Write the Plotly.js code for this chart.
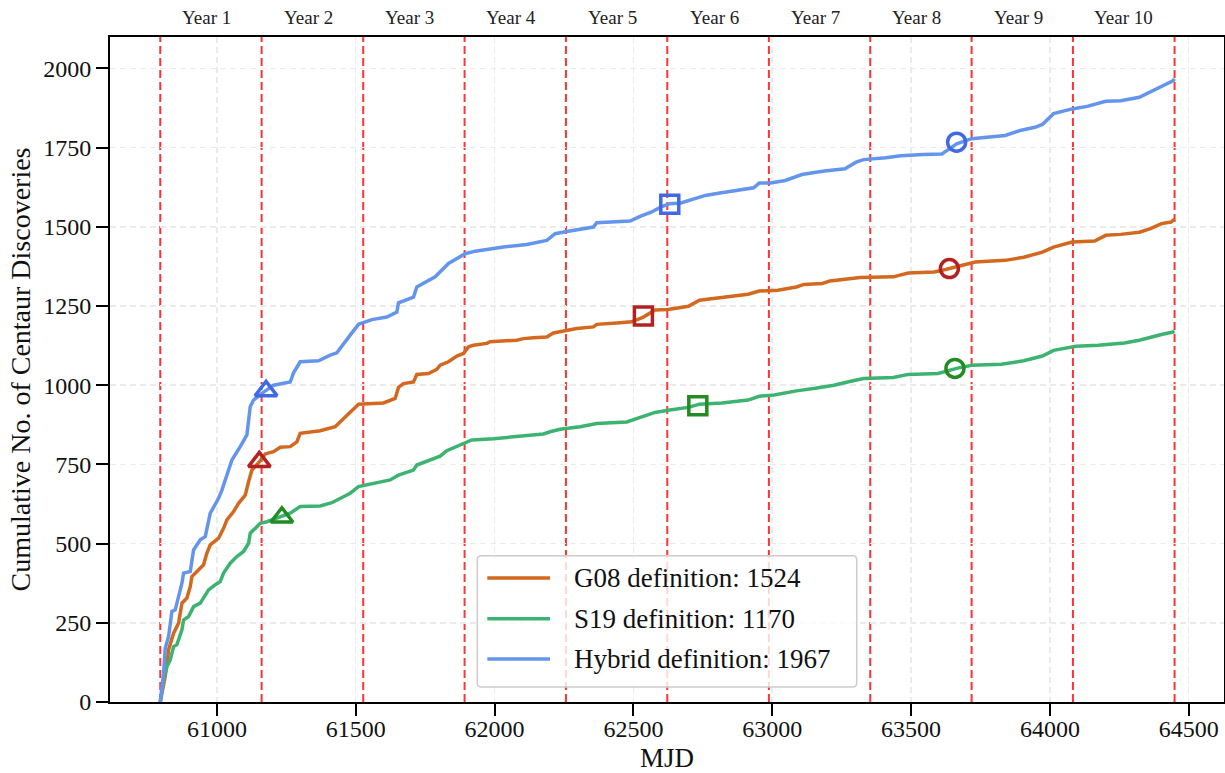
<!DOCTYPE html>
<html>
<head>
<meta charset="utf-8">
<script src="https://cdn.plot.ly/plotly-3.0.1.min.js"></script>
<style>html,body{margin:0;padding:0;background:#fff}#chart{width:1225px;height:773px}</style>
</head>
<body>
<div id="chart"></div>
<script>
// ---------------- data ----------------
const yearBoundaries = [60796, 61161, 61527, 61892, 62257, 62622, 62988, 63353, 63718, 64083, 64449];
const yearLabels = ['Year 1','Year 2','Year 3','Year 4','Year 5','Year 6','Year 7','Year 8','Year 9','Year 10'];

const seriesNames = ['G08 definition', 'S19 definition', 'Hybrid definition'];
const seriesTotals = [1524, 1170, 1967];

const g08Mjd = [60796,60814,60826,60844,60862,60874,60892,60904,60910,60928,60952,60964,60976,61006,61024,61036,61060,61078,61102,61114,61126,61150,61174,61204,61228,61264,61288,61300,61372,61426,61456,61480,61510,61600,61642,61654,61672,61708,61720,61762,61792,61804,61834,61864,61888,61906,61924,61972,61984,62080,62104,62140,62188,62212,62254,62296,62356,62368,62440,62494,62536,62560,62578,62625,62698,62738,62819,62913,62953,63020,63087,63114,63181,63208,63316,63436,63490,63584,63624,63664,63731,63839,63906,63973,64013,64080,64161,64201,64255,64322,64362,64402,64436,64449];
const g08Count = [0,81,165,217,249,312,328,364,396,412,433,470,496,517,548,575,601,627,653,695,732,755,783,790,804,806,821,848,856,869,895,916,940,944,958,993,1005,1010,1034,1037,1050,1063,1074,1092,1100,1121,1126,1132,1137,1142,1147,1150,1152,1165,1173,1179,1184,1192,1196,1200,1215,1226,1237,1239,1249,1268,1277,1287,1297,1300,1310,1318,1321,1329,1340,1342,1354,1357,1365,1375,1389,1394,1404,1420,1436,1452,1455,1473,1476,1483,1494,1510,1515,1524];

const s19Mjd = [60796,60808,60820,60832,60844,60856,60874,60880,60898,60916,60940,60970,60994,61012,61024,61048,61072,61096,61114,61120,61138,61156,61180,61216,61264,61300,61372,61414,61456,61480,61510,61552,61594,61624,61654,61708,61720,61780,61804,61828,61864,61888,61918,61996,62080,62176,62200,62236,62308,62368,62476,62512,62560,62578,62625,62698,62738,62819,62913,62953,63007,63087,63155,63222,63275,63329,63436,63490,63597,63664,63718,63825,63906,63973,64013,64094,64174,64268,64322,64362,64402,64443,64449];
const s19Count = [0,70,112,133,175,181,228,259,270,301,312,354,370,380,407,438,459,475,501,533,548,564,569,580,596,617,619,629,648,659,680,688,695,701,716,732,748,766,776,793,806,816,827,831,837,846,853,861,869,879,884,895,908,914,921,930,940,944,953,965,969,982,990,1000,1011,1021,1024,1034,1037,1053,1063,1066,1077,1092,1110,1123,1126,1133,1142,1152,1160,1168,1170];

const hybMjd = [60796,60808,60814,60826,60838,60850,60874,60880,60904,60916,60940,60958,60976,61006,61018,61054,61084,61108,61120,61132,61162,61204,61264,61276,61300,61366,61408,61432,61480,61510,61558,61612,61648,61654,61708,61720,61786,61804,61834,61894,61930,62032,62116,62188,62218,62260,62356,62368,62488,62524,62564,62598,62631,62671,62725,62759,62806,62873,62933,62953,62994,63047,63074,63107,63181,63262,63302,63329,63409,63463,63544,63611,63638,63664,63718,63839,63893,63946,63973,64013,64080,64134,64201,64255,64322,64349,64389,64443,64449];
const hybCount = [0,91,170,207,286,291,375,407,412,480,512,522,596,643,669,764,806,843,932,953,974,1000,1010,1039,1074,1077,1095,1102,1158,1192,1207,1215,1231,1260,1278,1310,1342,1357,1384,1415,1423,1436,1444,1457,1478,1485,1499,1513,1518,1533,1546,1562,1573,1575,1589,1599,1606,1615,1623,1638,1638,1646,1655,1665,1675,1683,1704,1712,1718,1724,1728,1730,1746,1762,1778,1788,1804,1814,1823,1857,1872,1880,1896,1898,1909,1921,1940,1961,1967];

// milestone markers (triangle, square, circle)
const g08MarkMjd = [61153, 62536, 63638];
const g08MarkCount = [758, 1218, 1368];
const s19MarkMjd = [61234, 62732, 63658];
const s19MarkCount = [583, 935, 1053];
const hybMarkMjd = [61177, 62631, 63664];
const hybMarkCount = [982, 1571, 1767];

// ---------------- styling ----------------
const FONT = '"Liberation Serif", "Times New Roman", Times, serif';
const lineColors = ['#D2691E', '#3CB371', '#6495ED'];
const markColors = ['#B22222', '#228B22', '#4169E1'];
const markSymbols = ['triangle-up', 'square', 'circle'];
const markSizes = [19, 18, 18];

const xs = [g08Mjd, s19Mjd, hybMjd];
const ys = [g08Count, s19Count, hybCount];
const mxs = [g08MarkMjd, s19MarkMjd, hybMarkMjd];
const mys = [g08MarkCount, s19MarkCount, hybMarkCount];

const traces = [];
for (let i = 0; i < 3; i++) {
  traces.push({
    type: 'scatter', mode: 'lines', x: xs[i], y: ys[i],
    name: seriesNames[i] + ': ' + seriesTotals[i],
    line: {color: lineColors[i], width: 3.5}, showlegend: false, hoverinfo: 'skip'
  });
}
for (let i = 0; i < 3; i++) {
  traces.push({
    type: 'scatter', mode: 'markers', x: mxs[i], y: mys[i], showlegend: false,
    marker: {symbol: markSymbols, size: markSizes, opacity: 1, color: 'rgba(0,0,0,0)',
             line: {color: markColors[i], width: 3.5}},
    hoverinfo: 'skip'
  });
}

const shapes = [];
yearBoundaries.forEach(v => {
  shapes.push({type: 'line', xref: 'x', yref: 'paper', x0: v, x1: v, y0: 0, y1: 1,
    layer: 'between', line: {color: 'rgba(255,0,0,0.8)', width: 2, dash: '8px,4px'}});
});

// legend box (manual, matplotlib-like)
const lx0 = 0.3297, lx1 = 0.6703, ly0 = 0.0225, ly1 = 0.2199, rx = 0.0036, ry = 0.006;
shapes.push({type: 'path', xref: 'paper', yref: 'paper', layer: 'above',
  path: `M ${lx0+rx},${ly0} L ${lx1-rx},${ly0} Q ${lx1},${ly0} ${lx1},${ly0+ry} L ${lx1},${ly1-ry} Q ${lx1},${ly1} ${lx1-rx},${ly1} L ${lx0+rx},${ly1} Q ${lx0},${ly1} ${lx0},${ly1-ry} L ${lx0},${ly0+ry} Q ${lx0},${ly0} ${lx0+rx},${ly0} Z`,
  fillcolor: 'rgba(255,255,255,0.8)', line: {color: '#cccccc', width: 1.5}});
const rowsY = [0.1864, 0.1252, 0.0646];
const annotations = [];
for (let i = 0; i < 3; i++) {
  shapes.push({type: 'line', xref: 'paper', yref: 'paper', layer: 'above',
    x0: 0.3387, x1: 0.3950, y0: rowsY[i], y1: rowsY[i], line: {color: lineColors[i], width: 3.5}});
  annotations.push({xref: 'paper', yref: 'paper', x: 0.4145, y: rowsY[i], xanchor: 'left', yanchor: 'middle',
    text: seriesNames[i] + ': ' + seriesTotals[i], showarrow: false, font: {family: FONT, size: 27, color: '#111'}});
}

// year labels above the plot
for (let k = 0; k < yearLabels.length; k++) {
  const mid = (yearBoundaries[k] + yearBoundaries[k + 1]) / 2;
  annotations.push({xref: 'x', yref: 'paper', x: mid, y: 1.03, xanchor: 'center', yanchor: 'middle',
    xshift: yearLabels[k].length > 6 ? 0 : -4,
    text: yearLabels[k], showarrow: false, font: {family: FONT, size: 19, color: '#222'}});
}

const axisCommon = {
  showline: true, linecolor: '#000', linewidth: 2, mirror: true,
  ticks: 'outside', ticklen: 12, tickwidth: 2, tickcolor: '#000',
  showgrid: true, gridcolor: '#ebebeb', gridwidth: 1.5, griddash: '6px,4px',
  zeroline: false, tickformat: 'd',
  tickfont: {family: FONT, size: 24, color: '#111'}
};

const layout = {
  width: 1225, height: 773,
  margin: {l: 110, r: 1, t: 37, b: 71, pad: 0},
  paper_bgcolor: '#fff', plot_bgcolor: '#fff',
  font: {family: FONT, color: '#111'},
  showlegend: false,
  xaxis: Object.assign({}, axisCommon, {
    range: [60615, 64627], tick0: 61000, dtick: 500, ticklabelstandoff: -8,
    title: {text: 'MJD', font: {family: FONT, size: 27, color: '#111'}, standoff: 7}
  }),
  yaxis: Object.assign({}, axisCommon, {
    range: [0, 2099], tick0: 0, dtick: 250,
    title: {text: 'Cumulative No. of Centaur Discoveries', font: {family: FONT, size: 28, color: '#111'}, standoff: 4}
  }),
  shapes: shapes,
  annotations: annotations
};

Plotly.newPlot('chart', traces, layout, {staticPlot: true, displayModeBar: false});
</script>
</body>
</html>
